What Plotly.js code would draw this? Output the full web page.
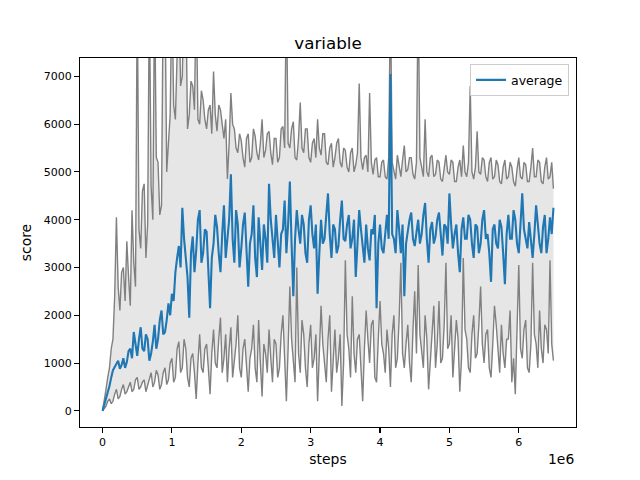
<!DOCTYPE html>
<html>
<head>
<meta charset="utf-8">
<script src="https://cdn.plot.ly/plotly-3.0.1.min.js"></script>
<style>
  html, body { margin: 0; padding: 0; background: #fff; }
  #graph { width: 640px; height: 480px; }
</style>
</head>
<body>
<div id="graph"></div>
<script>
// steps, in millions (axis shows the 1e6 offset like matplotlib)
const steps = [
  0.000, 0.025, 0.050, 0.075, 0.100, 0.125, 0.150, 0.175, 0.200, 0.225,
  0.250, 0.275, 0.300, 0.325, 0.350, 0.375, 0.400, 0.425, 0.450, 0.475,
  0.500, 0.525, 0.550, 0.575, 0.600, 0.625, 0.650, 0.675, 0.700, 0.725,
  0.750, 0.775, 0.800, 0.825, 0.850, 0.875, 0.900, 0.925, 0.950, 0.975,
  1.000, 1.025, 1.050, 1.075, 1.100, 1.125, 1.150, 1.175, 1.200, 1.225,
  1.250, 1.275, 1.300, 1.325, 1.350, 1.375, 1.400, 1.425, 1.450, 1.475,
  1.500, 1.525, 1.550, 1.575, 1.600, 1.625, 1.650, 1.675, 1.700, 1.725,
  1.750, 1.775, 1.800, 1.825, 1.850, 1.875, 1.900, 1.925, 1.950, 1.975,
  2.000, 2.025, 2.050, 2.075, 2.100, 2.125, 2.150, 2.175, 2.200, 2.225,
  2.250, 2.275, 2.300, 2.325, 2.350, 2.375, 2.400, 2.425, 2.450, 2.475,
  2.500, 2.525, 2.550, 2.575, 2.600, 2.625, 2.650, 2.675, 2.700, 2.725,
  2.750, 2.775, 2.800, 2.825, 2.850, 2.875, 2.900, 2.925, 2.950, 2.975,
  3.000, 3.025, 3.050, 3.075, 3.100, 3.125, 3.150, 3.175, 3.200, 3.225,
  3.250, 3.275, 3.300, 3.325, 3.350, 3.375, 3.400, 3.425, 3.450, 3.475,
  3.500, 3.525, 3.550, 3.575, 3.600, 3.625, 3.650, 3.675, 3.700, 3.725,
  3.750, 3.775, 3.800, 3.825, 3.850, 3.875, 3.900, 3.925, 3.950, 3.975,
  4.000, 4.025, 4.050, 4.075, 4.100, 4.125, 4.150, 4.175, 4.200, 4.225,
  4.250, 4.275, 4.300, 4.325, 4.350, 4.375, 4.400, 4.425, 4.450, 4.475,
  4.500, 4.525, 4.550, 4.575, 4.600, 4.625, 4.650, 4.675, 4.700, 4.725,
  4.750, 4.775, 4.800, 4.825, 4.850, 4.875, 4.900, 4.925, 4.950, 4.975,
  5.000, 5.025, 5.050, 5.075, 5.100, 5.125, 5.150, 5.175, 5.200, 5.225,
  5.250, 5.275, 5.300, 5.325, 5.350, 5.375, 5.400, 5.425, 5.450, 5.475,
  5.500, 5.525, 5.550, 5.575, 5.600, 5.625, 5.650, 5.675, 5.700, 5.725,
  5.750, 5.775, 5.800, 5.825, 5.850, 5.875, 5.900, 5.925, 5.950, 5.975,
  6.000, 6.025, 6.050, 6.075, 6.100, 6.125, 6.150, 6.175, 6.200, 6.225,
  6.250, 6.275, 6.300, 6.325, 6.350, 6.375, 6.400, 6.425, 6.450, 6.475,
  6.500
];

const average = [
  0, 120, 250, 400, 520, 700, 850, 920, 980, 1050, 880, 960, 1100, 900, 1020, 1250, 1300, 1100, 1650, 1400,
  1150, 1500, 1750, 1300, 1250, 1600, 1500, 1050, 1200, 1450, 1800, 1300, 1500, 1900, 2100, 1600, 1650, 1900, 2250, 2000,
  2450, 2300, 2900, 3200, 3450, 3000, 4250, 3600, 3200, 2800, 1950, 3300, 3650, 2900, 3350, 4000, 4200, 3100, 3300, 3800,
  3750, 2900, 2150, 3200, 3500, 4100, 3850, 3300, 2900, 3700, 4300, 3200, 3550, 4000, 4950, 3600, 3100, 4200, 3900, 3000,
  3400, 3900, 4150, 3300, 2600, 3500, 3700, 4300, 3200, 2800, 4050, 3500, 2950, 3900, 3600, 3100, 4750, 4000, 3500, 3200,
  4100, 3600, 3000, 3700, 3800, 4400, 3300, 3900, 4800, 3500, 2400, 3600, 4200, 3800, 3500, 4100, 3900, 3300, 3100, 4000,
  4300, 3700, 3400, 3900, 2450, 3300, 4000, 3500, 3600, 4100, 4550, 3700, 3200, 3900, 3800, 3300, 3450, 4000, 4400, 3600,
  3550, 3900, 4100, 3400, 3600, 4000, 2800, 3500, 4200, 3800, 3500, 3100, 3900, 3400, 3150, 3800, 3700, 4100, 2150, 3500,
  3900, 3400, 3300, 3800, 4100, 3600, 7050, 3700, 3600, 3300, 4200, 3800, 3300, 3900, 2400, 3500, 3800, 4000, 4150, 3600,
  3450, 3800, 4000, 3500, 3700, 4100, 4350, 3600, 3100, 3800, 3950, 3500, 3650, 4000, 4150, 3700, 3250, 3900, 3850, 3500,
  4550, 3900, 3400, 3700, 3900, 3300, 2900, 3800, 4050, 3600, 3600, 4100, 4000, 3500, 3200, 3900, 3850, 3300, 3500, 4000,
  4200, 3600, 3700, 3300, 2700, 3800, 3900, 3500, 3400, 4000, 3850, 3300, 2650, 3700, 4100, 3600, 3600, 4200, 4000, 3500,
  3300, 3900, 4550, 3800, 3550, 3400, 3950, 3600, 3200, 3700, 4300, 3900, 3500, 3300, 3850, 4100, 3300, 3600, 4050, 3700,
  4250
];

const upper = [
  0, 200, 450, 700, 900, 1300, 1500, 2400, 4050, 2600, 2100, 2900, 3000, 2300, 3550, 2800, 2200, 4200, 3100, 2600,
  8800, 3800, 3400, 4600, 4750, 3200, 3900, 8800, 4700, 4000, 8800, 5300, 5200, 4100, 4300, 8800, 8800, 5000, 5600, 6200,
  8800, 6400, 6100, 8800, 8800, 6800, 7000, 8800, 8800, 5900, 6200, 6900, 6800, 6300, 8800, 6100, 6000, 6700, 6500, 6100,
  5900, 6300, 6400, 5800, 7100, 6200, 5850, 6400, 6300, 6000, 5700, 6100, 4850, 5600, 6650, 6000, 5900, 5500, 5400, 5800,
  5650, 5300, 5100, 5700, 5800, 5200, 5300, 5900, 5750, 5400, 5250, 5600, 6100, 5300, 5450, 5800, 5850, 5400, 5150, 5700,
  5700, 5200, 5300, 5900, 5950, 5500, 8800, 5600, 5500, 5900, 6050, 5300, 5250, 5700, 6450, 5500, 5400, 5900, 5900, 5300,
  5200, 5600, 5700, 5300, 6100, 5500, 5350, 5800, 5800, 5200, 5150, 5500, 5600, 5100, 5300, 5600, 5700, 5200, 5100, 5500,
  5450, 5100, 5000, 5400, 5500, 5000, 5150, 5400, 6850, 5300, 5050, 5300, 5350, 5000, 6650, 5200, 4950, 5250, 5300, 4900,
  4900, 5200, 5250, 4900, 4850, 5300, 8800, 5200, 5000, 4850, 5350, 5100, 4900, 5250, 5550, 5000, 5050, 5300, 5300, 4950,
  4850, 5200, 8800, 5300, 5100, 4900, 6100, 5000, 4900, 5300, 5350, 4900, 4950, 5250, 5200, 4850, 4800, 5100, 5350, 5000,
  4950, 5250, 5200, 4800, 4800, 5100, 5250, 4900, 5550, 5000, 4900, 5200, 6800, 5000, 4850, 5100, 5850, 5000, 4950, 5300,
  5250, 4900, 4800, 5200, 5300, 4850, 4900, 5250, 5150, 4800, 4750, 5100, 5250, 4850, 4900, 5200, 5100, 4800, 4700, 5050,
  5300, 4900, 4850, 5200, 5150, 4800, 4800, 5100, 5500, 4900, 4900, 5250, 5200, 4800, 4750, 5100, 5300, 4850, 4900, 5200,
  4650
];

const lower = [
  0, 60, 100, 200, 250, 150, 200, 350, 450, 250, 300, 450, 550, 350, 400, 500, 600, 400, 450, 650,
  700, 450, 500, 600, 650, 400, 550, 700, 800, 500, 600, 850, 750, 450, 550, 800, 900, 550, 650, 1000,
  1100, 600, 700, 1300, 1450, 800, 900, 1500, 1300, 700, 500, 1100, 1200, 800, 250, 1000, 1600, 900, 800, 1300,
  1400, 900, 350, 1200, 1700, 1000, 900, 1500, 1950, 800, 1100, 1600, 600, 1300, 1750, 700, 1000, 1400, 2000, 900,
  700, 1300, 1500, 900, 400, 1100, 1300, 1800, 900, 600, 1900, 1000, 300, 1400, 1200, 800, 1700, 1100, 600, 1500,
  1400, 700, 900, 1600, 2000, 1100, 200, 1300, 2600, 1500, 1000, 600, 3000, 1200, 800, 1900, 1600, 900, 500, 1400,
  1800, 900, 1100, 1600, 200, 1200, 2200, 1400, 900, 600, 1500, 2000, 400, 1100, 1700, 800, 1100, 1600, 100, 1000,
  3150, 1600, 1300, 700, 2400, 1200, 800, 1500, 1600, 900, 200, 1300, 2100, 1500, 1000, 1800, 1900, 700, 600, 1500,
  2300, 1400, 1200, 800, 1700, 1300, 500, 1600, 2000, 900, 1100, 1900, 3100, 1200, 900, 1400, 1800, 1000, 600, 1700,
  2500, 1200, 3050, 1600, 1300, 900, 2000, 1500, 450, 1100, 1600, 2200, 900, 1400, 2300, 1000, 1100, 1800, 3100, 1300,
  1400, 2000, 700, 1200, 1900, 1500, 400, 1100, 3200, 1700, 1500, 900, 800, 1600, 2000, 1100, 1200, 1800, 2600, 1400,
  1000, 1600, 1700, 900, 700, 1400, 2200, 1800, 1300, 800, 1800, 1200, 900, 1500, 1500, 2100, 600, 1100, 350, 1500,
  3050, 1300, 1100, 1700, 1900, 900, 800, 1400, 3100, 1600, 1400, 900, 2100, 1300, 1000, 1800, 1700, 1200, 3150, 1400,
  1050
];

const xTicks = [0, 1, 2, 3, 4, 5, 6];
const yTicks = [0, 1000, 2000, 3000, 4000, 5000, 6000, 7000];

const font = 'DejaVu Sans, sans-serif';

const traces = [
  // band between min and max (drawn first, lines go on top)
  { x: steps, y: lower, mode: 'lines', line: { width: 0 }, hoverinfo: 'skip', showlegend: false },
  { x: steps, y: upper, mode: 'lines', line: { width: 0 }, fill: 'tonexty',
    fillcolor: 'rgba(128,128,128,0.2)', hoverinfo: 'skip', showlegend: false },
  { x: steps, y: lower, mode: 'lines', line: { color: '#808080', width: 1.4 }, showlegend: false },
  { x: steps, y: upper, mode: 'lines', line: { color: '#808080', width: 1.4 }, showlegend: false },
  { x: steps, y: average, mode: 'lines', name: 'average', line: { color: '#1f77b4', width: 2.1 } }
];

const axisCommon = {
  showgrid: false,
  zeroline: false,
  showline: true,
  mirror: true,
  linecolor: '#000',
  linewidth: 1.1,
  ticks: 'outside',
  ticklen: 5,
  tickwidth: 1.1,
  tickcolor: '#000',
  tickfont: { family: font, size: 11, color: '#000' }
};

const layout = {
  width: 640,
  height: 480,
  paper_bgcolor: '#fff',
  plot_bgcolor: '#fff',
  margin: { l: 80, r: 64, t: 57.6, b: 52.8, pad: 0 },
  font: { family: font, color: '#000' },
  title: {
    text: 'variable',
    font: { family: font, size: 16.7, color: '#000' },
    x: 0.5, xref: 'paper', xanchor: 'center',
    y: 0.91, yref: 'container', yanchor: 'middle'
  },
  xaxis: Object.assign({}, axisCommon, {
    range: [-0.325, 6.825],
    tickvals: xTicks,
    ticktext: xTicks.map(String),
    title: { text: 'steps', font: { family: font, size: 13.9 }, standoff: 6 }
  }),
  yaxis: Object.assign({}, axisCommon, {
    range: [-338, 7384],
    tickvals: yTicks,
    ticktext: yTicks.map(String),
    title: { text: 'score', font: { family: font, size: 13.9 }, standoff: 8 }
  }),
  legend: {
    x: 0.986, y: 0.983, xanchor: 'right', yanchor: 'top',
    bgcolor: 'rgba(255,255,255,0.8)',
    bordercolor: '#cccccc', borderwidth: 1,
    font: { family: font, size: 12.5, color: '#000' }
  },
  annotations: [{
    text: '1e6', xref: 'paper', yref: 'paper', x: 1, y: -0.06,
    xanchor: 'right', yanchor: 'top', showarrow: false,
    font: { family: font, size: 13.9, color: '#000' }
  }]
};

Plotly.newPlot('graph', traces, layout, { displayModeBar: false, staticPlot: true });
</script>
</body>
</html>
